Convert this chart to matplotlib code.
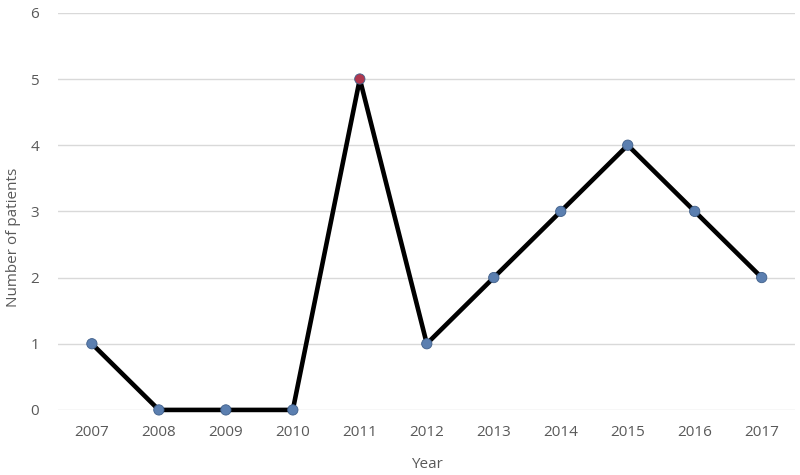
import matplotlib
matplotlib.use("Agg")
import matplotlib.pyplot as plt

years = ["2007", "2008", "2009", "2010", "2011", "2012", "2013", "2014", "2015", "2016", "2017"]
patients = [1, 0, 0, 0, 5, 1, 2, 3, 4, 3, 2]
marker_colors = ["#5b7fb0", "#5b7fb0", "#5b7fb0", "#5b7fb0", "#b0384f", "#5b7fb0",
                 "#5b7fb0", "#5b7fb0", "#5b7fb0", "#5b7fb0", "#5b7fb0"]
yticks = [0, 1, 2, 3, 4, 5, 6]

plt.rcParams['font.family'] = ['Open Sans', 'DejaVu Sans']

fig = plt.figure(figsize=(8, 4.75), dpi=100)
ax = fig.add_axes([0.073, 0.137, 0.921, 0.836])

x = list(range(len(years)))
ax.plot(x, patients, color="black", linewidth=3.3, zorder=3)
ax.scatter(x, patients, s=55, c=marker_colors, edgecolors="#3f5f8a", linewidths=0.6, zorder=4)

ax.set_xlim(-0.5, len(years) - 0.5)
ax.set_ylim(0, 6)
ax.set_yticks(yticks)
ax.set_xticks(x)
ax.set_xticklabels(years)
ax.grid(axis="y", color="#d9d9d9", linewidth=1)
ax.set_axisbelow(True)
for s in ax.spines.values():
    s.set_visible(False)
ax.tick_params(axis="both", length=0, colors="#595959", labelsize=11)
ax.tick_params(axis="y", pad=14)
ax.tick_params(axis="x", pad=11)
for c in ax.collections + ax.lines:
    c.set_clip_on(False)

ax.set_xlabel("Year", color="#595959", fontsize=11)
ax.xaxis.set_label_coords(427 / 800, 3 / 475, transform=fig.transFigure)
ax.set_ylabel("Number of patients", color="#595959", fontsize=11)
ax.yaxis.set_label_coords(14 / 800, 0.5, transform=fig.transFigure)
ax.yaxis.label.set_va("center")
ax.xaxis.label.set_va("bottom")

fig.savefig("out.png", dpi=100, facecolor="white")
